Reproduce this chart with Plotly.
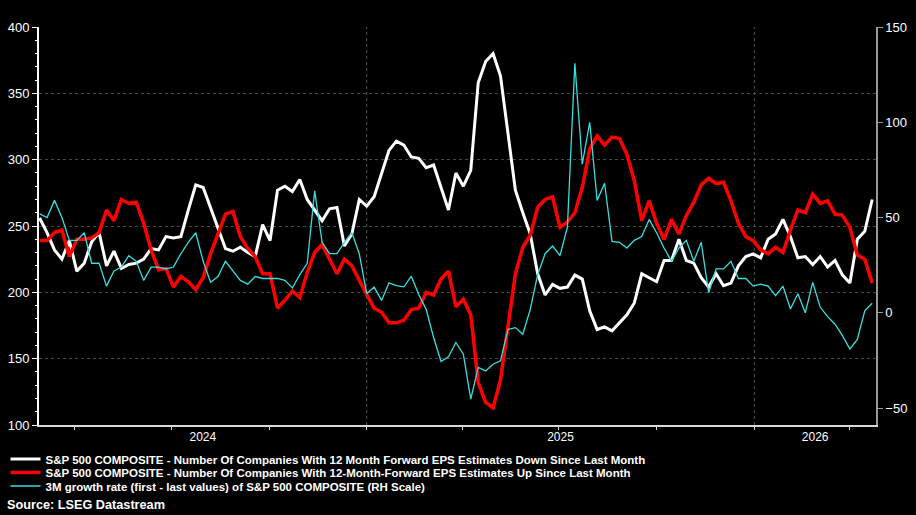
import pandas as pd
import plotly.graph_objects as go

# ---- data (weekly) ----
dates = pd.date_range("2024-02-28", periods=113, freq="7D").strftime("%Y-%m-%d").tolist()

eps_down = [256, 245, 232, 225, 239, 216, 222, 238, 245, 220, 231, 218, 221, 222, 225, 233, 232, 242, 241, 242, 262, 281, 279,
            264, 249, 233, 231, 234, 230, 227, 251, 239, 277, 280, 276, 285, 270, 262, 254, 263, 264, 235, 244, 270, 265,
            272, 289, 307, 314, 311, 302, 301, 294, 296, 279, 262, 290, 280, 292, 358, 374, 380, 363, 319, 277, 260, 244,
            214, 198, 206, 203, 204, 213, 210, 186, 172, 174, 171, 177, 183, 192, 214, 211, 208, 224, 224, 240, 224, 222, 211,
            204, 214, 205, 207, 220, 227, 229, 226, 240, 244, 255, 242, 226, 227, 221, 227, 219, 224, 213, 207, 240, 246, 270]

eps_up = [239, 239, 245, 247, 227, 240, 240, 241, 245, 262, 254, 270, 267, 268, 252, 232, 217, 218, 204, 212, 208, 202, 211,
          229, 244, 259, 261, 242, 233, 227, 214, 214, 188, 194, 201, 196, 215, 230, 236, 225, 214, 225, 220, 209, 199,
          188, 185, 177, 177, 179, 187, 188, 200, 198, 210, 216, 189, 195, 183, 132, 117, 113, 134, 172, 214, 234, 243,
          264, 270, 272, 249, 253, 260, 279, 308, 318, 311, 317, 316, 304, 284, 254, 269, 252, 240, 255, 244, 258, 268, 281,
          286, 282, 283, 269, 252, 242, 239, 232, 229, 234, 230, 247, 262, 260, 274, 267, 269, 259, 258, 249, 228, 225, 207]

growth_3m = [52, 50, 59, 50, 38, 38, 42, 26, 26, 14, 22, 24, 30, 27, 17, 24, 24, 23, 24, 31, 37, 42, 27,
             16, 19, 27, 22, 17, 15, 19, 18, 18, 18, 17, 13, 20, 26, 64, 37, 31, 31, 37, 42, 31, 10,
             13.5, 6.5, 15.7, 14.3, 13.6, 19.2, 9.6, 1.8, -13, -25.6, -23.1, -15.6, -21.7, -45.3, -28.7, -30.5, -27, -25.2, -8.7, -7.8, -11.3, 1.8,
             20, 31, 35, 30, 45, 131, 78, 100, 59, 68, 37.5, 37, 34, 38, 40, 49, 42, 34, 27, 34, 38, 27, 37,
             10.5, 23, 23, 27, 18, 18, 14, 15, 14, 9, 14, 2, 10, 0, 16, 3, -2, -6, -12, -19, -14, 1, 5]

names = [
    "S&P 500 COMPOSITE - Number Of Companies With 12 Month Forward EPS Estimates Down Since Last Month",
    "S&P 500 COMPOSITE - Number Of Companies With 12-Month-Forward EPS Estimates Up Since Last Month",
    "3M growth rate (first - last values) of S&P 500 COMPOSITE (RH Scale)",
]

x_range = ["2024-02-27 10:00", "2026-04-25 14:00"]
year_starts = ["2025-01-01", "2026-01-01"]
year_labels = ["2024", "2025", "2026"]

# label positions: centre of the visible part of each year
bounds = [pd.Timestamp(x_range[0])] + [pd.Timestamp(d) for d in year_starts] + [pd.Timestamp(x_range[1])]
label_pos = [(bounds[i] + (bounds[i + 1] - bounds[i]) / 2).strftime("%Y-%m-%d %H:%M") for i in range(3)]

FONT = "Liberation Sans"

fig = go.Figure()
fig.add_trace(go.Scatter(x=dates, y=eps_down, name=names[0], mode="lines",
                         line=dict(color="#ffffff", width=3), legend="legend"))
fig.add_trace(go.Scatter(x=dates, y=eps_up, name=names[1], mode="lines",
                         line=dict(color="#ff0000", width=3.5), legend="legend2"))
fig.add_trace(go.Scatter(x=dates, y=growth_3m, name=names[2], mode="lines", yaxis="y2",
                         line=dict(color="#38dede", width=1.3), legend="legend3"))

for d in year_starts:
    fig.add_shape(type="line", xref="x", yref="paper", x0=d, x1=d, y0=0, y1=1,
                  line=dict(color="#555555", width=1, dash="dot"), layer="below")

plot_h = 515 - 27 - 90
def py(pix):
    return -(pix - 425) / plot_h

leg_common = dict(xref="paper", yref="paper", x=-0.04, xanchor="left", yanchor="middle",
                  bgcolor="rgba(0,0,0,0)", borderwidth=0,
                  font=dict(family=FONT, size=11.5, color="#ffffff", weight="bold"),
                  itemwidth=30, tracegroupgap=0)

fig.update_layout(
    width=916, height=515,
    paper_bgcolor="#000000", plot_bgcolor="#000000",
    margin=dict(l=39, r=40, t=27, b=90, autoexpand=False),
    showlegend=True,
    legend=dict(**leg_common, y=py(459)),
    legend2=dict(**leg_common, y=py(472.5)),
    legend3=dict(**leg_common, y=py(486)),
    xaxis=dict(
        type="date", range=x_range,
        tickmode="array", tickvals=label_pos, ticktext=year_labels,
        ticks="", showgrid=False, zeroline=False,
        showline=True, linecolor="#d8d8d8", linewidth=2,
        tickfont=dict(family=FONT, size=12, color="#ffffff"),
        minor=dict(ticks="outside", dtick="M3", tick0="2024-01-01", ticklen=3,
                   tickcolor="#d8d8d8", tickwidth=1, showgrid=False),
    ),
    yaxis=dict(
        range=[100, 400], tickmode="linear", tick0=100, dtick=50,
        ticks="outside", ticklen=5, tickcolor="#ffffff", tickwidth=1,
        showline=True, linecolor="#ffffff", linewidth=2,
        showgrid=True, gridcolor="#4a4a4a", griddash="dot", gridwidth=1,
        zeroline=False,
        tickfont=dict(family=FONT, size=13, color="#ffffff"),
        minor=dict(ticks="outside", dtick=10, ticklen=2, tickcolor="#ffffff", showgrid=False),
    ),
    yaxis2=dict(
        overlaying="y", side="right", range=[-58.9, 150],
        tickmode="linear", tick0=-50, dtick=50,
        ticks="outside", ticklen=5, tickcolor="#999999",
        showline=True, linecolor="#999999", linewidth=1.5,
        showgrid=False, zeroline=False,
        tickfont=dict(family=FONT, size=13, color="#ffffff"),
    ),
    annotations=[dict(text="<b>Source: LSEG Datastream</b>", xref="paper", yref="paper",
                      x=(5 - 39) / 837, y=py(505), xanchor="left", yanchor="middle",
                      showarrow=False, font=dict(family=FONT, size=12.7, color="#ffffff"))],
)

fig.write_html("out.html")
